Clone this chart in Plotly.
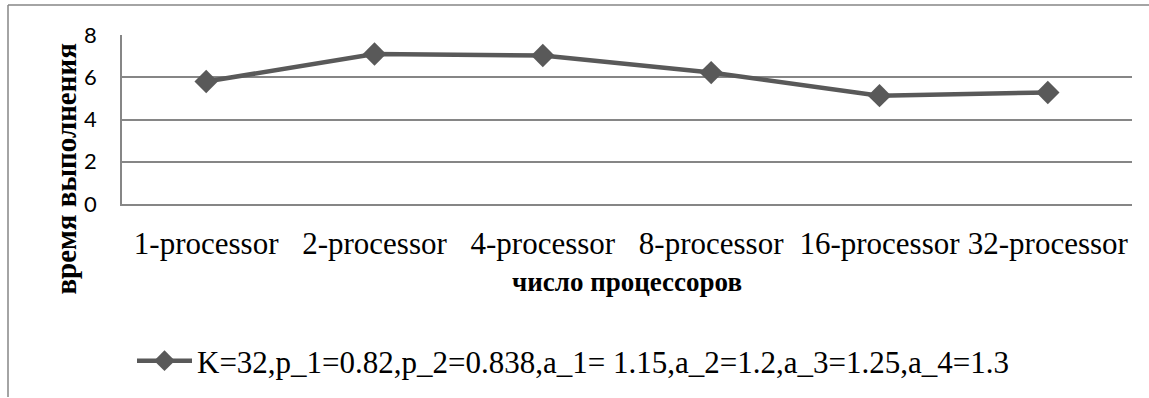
import plotly.graph_objects as go

# Execution time vs. number of processors
categories = ["1-processor", "2-processor", "4-processor", "8-processor", "16-processor", "32-processor"]
exec_time = [5.8, 7.1, 7.03, 6.22, 5.13, 5.28]
series_name = "K=32,p_1=0.82,p_2=0.838,a_1= 1.15,a_2=1.2,a_3=1.25,a_4=1.3"
y_ticks = [0, 2, 4, 6, 8]

W, H = 1149, 398
L, R, T, B = 122, 17, 35, 193.5
PW, PH = W - L - R, H - T - B

def px_x(px):
    return (px - L) / PW

def px_y(py):
    return (H - B - py) / PH

GRID = "#868686"
LINE = "#595959"
SERIF = "'Times New Roman', 'Liberation Serif', serif"

fig = go.Figure()
fig.add_trace(go.Scatter(
    x=categories, y=exec_time, name=series_name,
    mode="lines+markers",
    line=dict(color=LINE, width=4.5),
    marker=dict(symbol="diamond", size=18, color=LINE),
))

fig.update_layout(
    width=W, height=H,
    margin=dict(l=L, r=R, t=T, b=B, pad=0, autoexpand=False),
    paper_bgcolor="white", plot_bgcolor="white",
    font=dict(family=SERIF),
    showlegend=True,
    legend=dict(
        orientation="h", xref="container", yref="container",
        x=132 / W, y=1 - 334 / H, xanchor="left", yanchor="top",
        itemwidth=55,
        font=dict(family=SERIF, size=31, color="black"),
        bgcolor="rgba(0,0,0,0)",
    ),
    xaxis=dict(
        type="category", range=[-0.5, len(categories) - 0.5], automargin=False,
        showgrid=False, showline=True, linecolor=GRID, linewidth=1.5,
        ticks="", tickfont=dict(family=SERIF, size=31, color="black"),
        ticklabelstandoff=11,
    ),
    yaxis=dict(
        range=[0, 8], tickvals=y_ticks, automargin=False,
        showgrid=True, gridcolor=GRID, gridwidth=1.5,
        zeroline=False, showline=True, linecolor=GRID, linewidth=1.5,
        ticks="", tickfont=dict(family="Lato, sans-serif", size=22, color="black"),
        ticklabelstandoff=19,
    ),
    annotations=[
        dict(text="<b>время выполнения</b>", textangle=-90, xref="paper", yref="paper",
             x=px_x(66), y=px_y(170), xanchor="center", yanchor="middle", showarrow=False,
             font=dict(family=SERIF, size=29, color="black")),
        dict(text="<b>число процессоров</b>", xref="paper", yref="paper",
             x=px_x(627), y=px_y(283), xanchor="center", yanchor="middle", showarrow=False,
             font=dict(family=SERIF, size=27, color="black")),
    ],
    shapes=[
        dict(type="line", xref="paper", yref="paper", x0=px_x(8), x1=px_x(1149),
             y0=px_y(5), y1=px_y(5), line=dict(color=GRID, width=1.5)),
        dict(type="line", xref="paper", yref="paper", x0=px_x(8), x1=px_x(8),
             y0=px_y(5), y1=px_y(398), line=dict(color=GRID, width=1.5)),
    ],
)

fig.write_html("out.html")
